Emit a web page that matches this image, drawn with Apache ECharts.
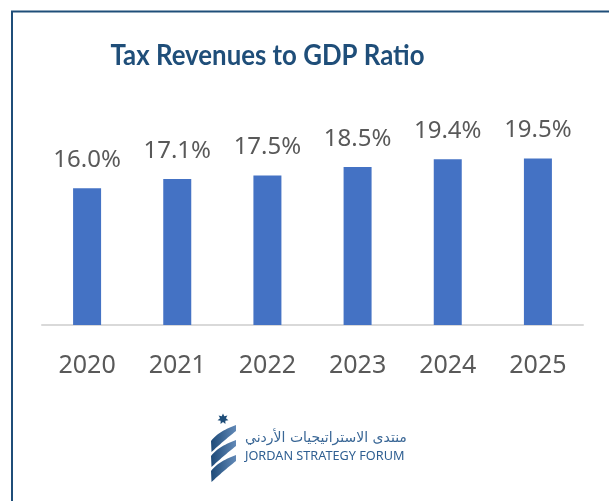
<!DOCTYPE html>
<html>
<head>
<meta charset="utf-8">
<script src="https://cdn.jsdelivr.net/npm/echarts@6/dist/echarts.min.js"></script>
<style>
  html, body { margin: 0; padding: 0; background: #ffffff; }
  #chart { width: 609px; height: 501px; }
</style>
</head>
<body>
<div id="chart"></div>
<script>
// Tax revenues as a share of GDP, by year (%)
const years = ['2020', '2021', '2022', '2023', '2024', '2025'];
const taxToGdp = [16.0, 17.1, 17.5, 18.5, 19.4, 19.5];

const titleText = 'Tax Revenues to GDP Ratio';
const forumArabic = 'منتدى الاستراتيجيات الأردني';
const forumEnglish = 'JORDAN STRATEGY FORUM';

// Seven-pointed star of the forum emblem
function starPoints(cx, cy, rOuter, rInner, n) {
  const pts = [];
  for (let i = 0; i < n * 2; i++) {
    const r = i % 2 === 0 ? rOuter : rInner;
    const a = -Math.PI / 2 + i * Math.PI / n;
    pts.push([cx + r * Math.cos(a), cy + r * Math.sin(a)]);
  }
  return pts;
}

// Sample a cubic Bezier curve into points
function cubic(p0, p1, p2, p3, steps) {
  const out = [];
  for (let i = 0; i <= steps; i++) {
    const t = i / steps, u = 1 - t;
    out.push([
      u * u * u * p0[0] + 3 * u * u * t * p1[0] + 3 * u * t * t * p2[0] + t * t * t * p3[0],
      u * u * u * p0[1] + 3 * u * u * t * p1[1] + 3 * u * t * t * p2[1] + t * t * t * p3[1]
    ]);
  }
  return out;
}

// One twisted ribbon band of the emblem, anchored at its upper-left corner
function bandPoints(y0) {
  const upper = cubic([211, y0], [217, y0 - 8], [226, y0 - 12], [236, y0 - 16], 16);
  const lower = cubic([236, y0 - 10], [227, y0 - 3], [219, y0 + 4], [211.5, y0 + 11], 16);
  return upper.concat(lower);
}

const ribbonFill = new echarts.graphic.LinearGradient(0, 0, 1, 0, [
  { offset: 0, color: '#1d4a78' },
  { offset: 1, color: '#6289b7' }
]);

const chart = echarts.init(document.getElementById('chart'), null, { renderer: 'canvas' });

chart.setOption({
  backgroundColor: '#ffffff',
  animation: false,
  grid: {
    left: 42,
    right: 26,
    top: 120,
    bottom: 176,
    containLabel: false
  },
  xAxis: {
    type: 'category',
    data: years,
    axisLine: { show: true, lineStyle: { color: '#d9d9d9', width: 2 } },
    axisTick: { show: false },
    axisLabel: {
      color: '#595959',
      fontFamily: 'Noto Sans',
      fontSize: 25,
      margin: 28
    }
  },
  yAxis: {
    type: 'value',
    min: 0,
    max: 24,
    show: false,
    splitLine: { show: false }
  },
  series: [{
    type: 'bar',
    data: taxToGdp,
    barWidth: 28,
    itemStyle: { color: '#4472c4' },
    label: {
      show: true,
      position: 'top',
      distance: 16,
      color: '#595959',
      fontFamily: 'Noto Sans',
      fontSize: 24,
      formatter: function (p) { return p.value.toFixed(1) + '%'; }
    }
  }],
  graphic: [
    {
      type: 'rect',
      shape: { x: 12, y: 11.5, width: 640, height: 540 },
      style: { fill: 'none', stroke: '#1f4e79', lineWidth: 2 },
      silent: true
    },
    {
      type: 'text',
      x: 267.5,
      y: 56,
      scaleX: 0.89,
      style: {
        text: titleText,
        x: 0,
        y: 0,
        align: 'center',
        verticalAlign: 'middle',
        fill: '#1f4e79',
        font: 'bold 29px Lato'
      },
      silent: true
    },
    {
      type: 'polygon',
      shape: { points: starPoints(223, 419, 5.6, 3, 7) },
      style: { fill: '#1f4e79' },
      silent: true
    },
    { type: 'polygon', shape: { points: bandPoints(441) }, style: { fill: ribbonFill }, silent: true },
    { type: 'polygon', shape: { points: bandPoints(456) }, style: { fill: ribbonFill }, silent: true },
    { type: 'polygon', shape: { points: bandPoints(471) }, style: { fill: ribbonFill }, silent: true },
    {
      type: 'text',
      left: 245,
      top: 431,
      style: {
        text: forumArabic,
        fill: '#3a6796',
        font: '14px "DejaVu Sans"'
      },
      silent: true
    },
    {
      type: 'text',
      left: 245,
      top: 450,
      style: {
        text: forumEnglish,
        fill: '#2f5f92',
        font: '12.7px "Noto Sans"'
      },
      silent: true
    }
  ]
});
</script>
</body>
</html>
